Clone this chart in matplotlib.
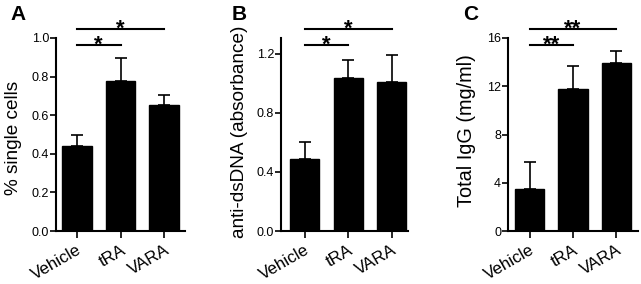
import matplotlib
matplotlib.use("Agg")
import matplotlib.pyplot as plt

plt.rcParams['font.family'] = ['Liberation Sans', 'DejaVu Sans']

groups = ["Vehicle", "tRA", "VARA"]

a_means = [0.44, 0.775, 0.655]
a_errs = [0.055, 0.12, 0.05]
b_means = [0.49, 1.04, 1.01]
b_errs = [0.11, 0.12, 0.185]
c_means = [3.45, 11.75, 13.95]
c_errs = [2.3, 1.95, 0.95]

a_ticks = [0.0, 0.2, 0.4, 0.6, 0.8, 1.0]
a_ticklabels = ["0.0", "0.2", "0.4", "0.6", "0.8", "1.0"]
b_ticks = [0.0, 0.4, 0.8, 1.2]
b_ticklabels = ["0.0", "0.4", "0.8", "1.2"]
c_ticks = [0, 4, 8, 12, 16]
c_ticklabels = ["0", "4", "8", "12", "16"]

W, H = 641, 284

panels = [
    dict(letter="A", means=a_means, errs=a_errs, ticks=a_ticks, tl=a_ticklabels,
         ylim=(0, 1.0), ylabel="% single cells", xlim=(-0.48, 2.48),
         pos=[56/W, 53/H, 129/W, 193/H], sig=["*", "*"],
         lines=(0.964, 1.047), letter_x=10, ylabel_xy=(13.5, 138), ylabel_fs=13.7),
    dict(letter="B", means=b_means, errs=b_errs, ticks=b_ticks, tl=b_ticklabels,
         ylim=(0, 1.308), ylabel="anti-dsDNA (absorbance)", xlim=(-0.55, 2.37),
         pos=[281/W, 53/H, 127/W, 193/H], sig=["*", "*"],
         lines=(1.258, 1.37), letter_x=232, ylabel_xy=(239, 131.5), ylabel_fs=13.7),
    dict(letter="C", means=c_means, errs=c_errs, ticks=c_ticks, tl=c_ticklabels,
         ylim=(0, 16), ylabel="Total IgG (mg/ml)", xlim=(-0.5, 2.5),
         pos=[508/W, 53/H, 130/W, 193/H], sig=["**", "**"],
         lines=(15.4, 16.75), letter_x=463, ylabel_xy=(467, 131), ylabel_fs=14.3),
]

fig = plt.figure(figsize=(W/100, H/100), dpi=100)

for p in panels:
    ax = fig.add_axes(p["pos"])
    x = list(range(len(groups)))
    ax.bar(x, p["means"], width=0.67, color="black", edgecolor="black", zorder=2)
    ax.errorbar(x, p["means"], yerr=[[0]*3, p["errs"]], fmt="none", ecolor="black",
                elinewidth=1.2, capsize=4.5, capthick=1.2, zorder=1)
    ax.set_xlim(*p["xlim"])
    ax.set_ylim(*p["ylim"])
    ax.set_yticks(p["ticks"])
    ax.set_yticklabels(p["tl"], fontsize=9)
    ax.set_xticks(x)
    ax.set_xticklabels(groups, fontsize=12.2, rotation=30, ha="right",
                       rotation_mode="anchor")
    ax.tick_params(axis="x", length=5, width=1.2, pad=3)
    ax.tick_params(axis="y", length=4, width=1.2, pad=1)
    for s in ["top", "right"]:
        ax.spines[s].set_visible(False)
    for s in ["left", "bottom"]:
        ax.spines[s].set_linewidth(1.5)
    lo, hi = p["lines"]
    ax.plot([0, 1], [lo, lo], color="black", lw=1.5, clip_on=False)
    ax.plot([0, 2], [hi, hi], color="black", lw=1.5, clip_on=False)
    for xc, yv, s in [(0.5, lo, p["sig"][0]), (1.0, hi, p["sig"][1])]:
        ax.annotate(s, xy=(xc, yv), xytext=(0, -4), textcoords="offset points",
                    ha="center", va="baseline", fontsize=16, fontweight="bold",
                    annotation_clip=False)
    fig.text(p["letter_x"]/W, 1 - 15/H, p["letter"], fontsize=15, fontweight="bold",
             ha="left", va="center")
    lx, ly = p["ylabel_xy"]
    fig.text(lx/W, 1 - ly/H, p["ylabel"], rotation=90, ha="center", va="center",
             fontsize=p["ylabel_fs"])

fig.savefig("out.png", dpi=100)
